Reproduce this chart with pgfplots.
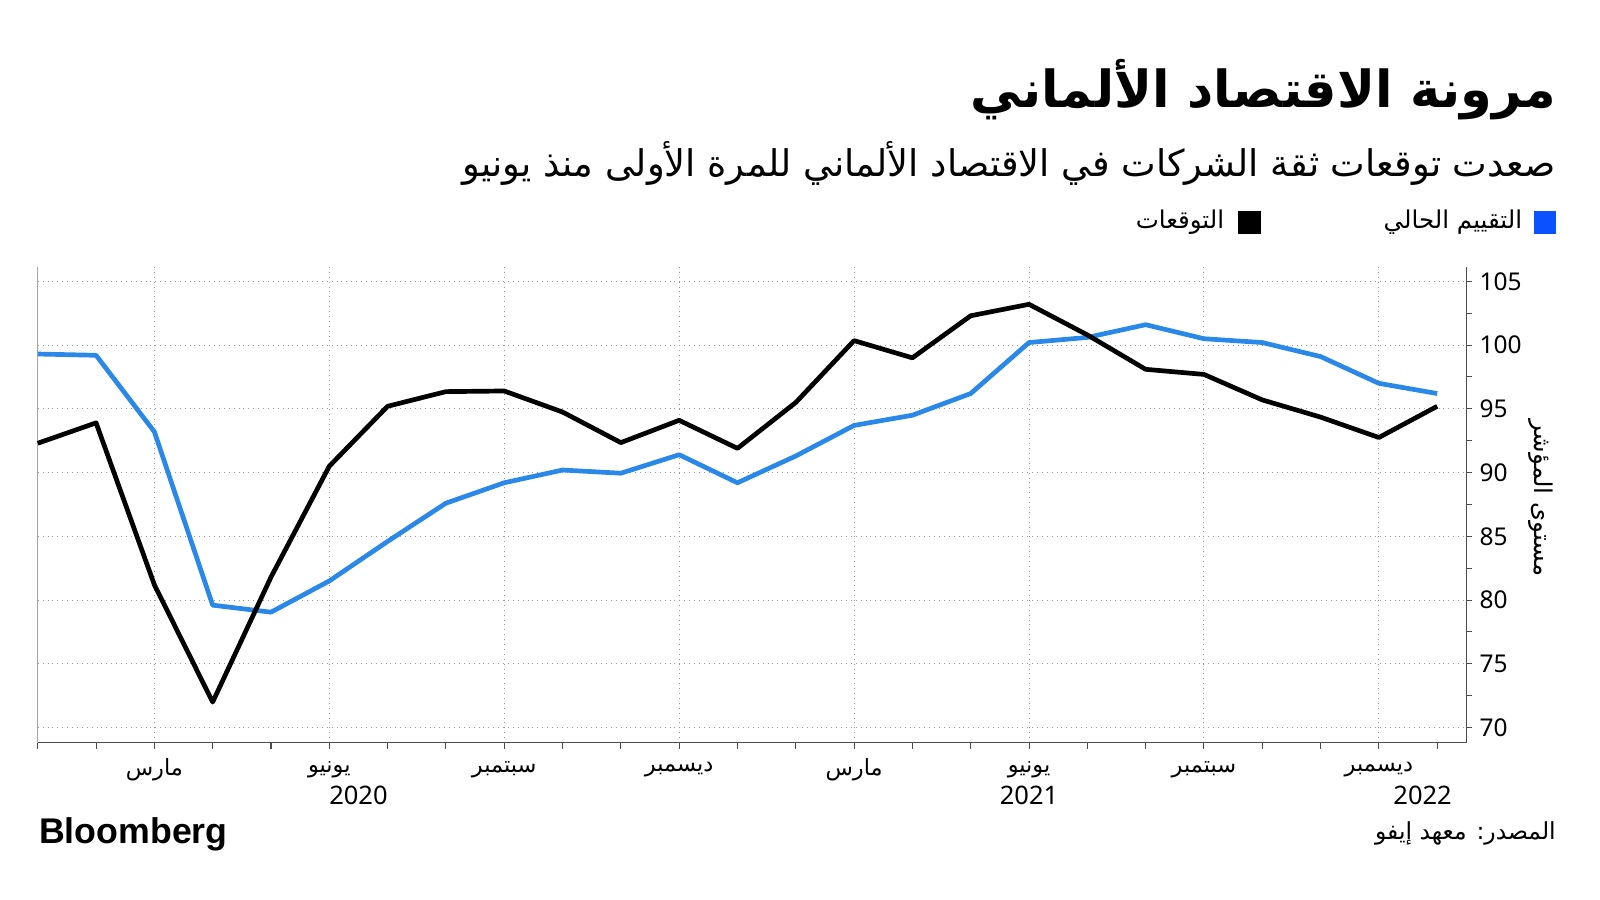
\documentclass[border=0pt]{standalone}
\usepackage{fontspec}
\usepackage{pgfplots}
\pgfplotsset{compat=1.18}
\setmainfont{Noto Sans}
\newfontfamily\ar[Script=Arabic]{DejaVu Sans}
\newfontfamily\bb{Liberation Sans}
\TeXXeTstate=1
\definecolor{curblue}{HTML}{2A88E8}
\definecolor{legblue}{HTML}{0A52FF}
\definecolor{gridgray}{HTML}{999999}

\begin{document}
\begin{tikzpicture}
\useasboundingbox (0,0) rectangle (784pt,441pt);
\begin{axis}[at={(18.5pt,77pt)}, anchor=south west,
  scale only axis, width=700pt, height=233pt,
  xmin=0, xmax=24.5, ymin=68.8, ymax=106.1,
  axis x line*=bottom, axis y line*=right,
  axis line style={black!70, line width=0.6pt},
  clip=false,
  xtick={2,5,8,11,14,17,20,23},
  xticklabels={\ar\beginR مارس\endR, \ar\beginR يونيو\endR, \ar\beginR سبتمبر\endR, \ar\beginR ديسمبر\endR,
               \ar\beginR مارس\endR, \ar\beginR يونيو\endR, \ar\beginR سبتمبر\endR, \ar\beginR ديسمبر\endR},
  minor xtick={0,1,...,24},
  ytick={70,75,...,105},
  minor ytick={72.5,77.5,...,102.5},
  tick align=outside,
  major tick length=3pt, minor tick length=3pt,
  tick style={black!70, line width=0.5pt},
  xmajorgrids, ymajorgrids,
  major grid style={gridgray, dotted, line width=0.5pt},
  xticklabel style={font=\fontsize{11}{13}\selectfont, anchor=center, yshift=-10pt},
  yticklabel style={font=\fontsize{12}{14}\selectfont},
  /pgf/number format/assume math mode=true,
  ]
\draw[black!35, line width=0.6pt] (axis cs:0,68.8) -- (axis cs:0,106.1);
\addplot[curblue, line width=2.3pt, line join=round] coordinates {
(0,99.3)(1,99.2)(2,93.2)(3,79.6)(4,79.05)(5,81.5)(6,84.6)(7,87.6)(8,89.2)(9,90.2)(10,89.95)(11,91.4)
(12,89.2)(13,91.3)(14,93.7)(15,94.5)(16,96.2)(17,100.2)(18,100.6)(19,101.6)(20,100.5)(21,100.2)(22,99.1)(23,97.0)(24,96.2)};
\addplot[black, line width=2.3pt, line join=round] coordinates {
(0,92.3)(1,93.9)(2,81.2)(3,72.0)(4,81.8)(5,90.5)(6,95.2)(7,96.35)(8,96.4)(9,94.75)(10,92.35)(11,94.1)
(12,91.9)(13,95.5)(14,100.35)(15,99.0)(16,102.3)(17,103.2)(18,100.8)(19,98.1)(20,97.7)(21,95.7)(22,94.35)(23,92.75)(24,95.2)};
\node[font=\fontsize{12.5}{14}\selectfont] at ([yshift=-25.5pt]axis cs:5.5,68.8) {2020};
\node[font=\fontsize{12.5}{14}\selectfont] at ([yshift=-25.5pt]axis cs:17,68.8) {2021};
\node[font=\fontsize{12.5}{14}\selectfont] at ([yshift=-25.5pt]axis cs:23.75,68.8) {2022};
\end{axis}
% title block
\node[anchor=east, inner sep=0pt, font=\ar\bfseries\fontsize{25}{30}\selectfont] at (762.5pt,397pt) {\beginR مرونة الاقتصاد الألماني\endR};
\node[anchor=east, inner sep=0pt, font=\ar\fontsize{18}{21}\selectfont] at (762.5pt,361pt) {\beginR صعدت توقعات ثقة الشركات في الاقتصاد الألماني للمرة الأولى منذ يونيو\endR};
% legend
\fill[legblue] (751.5pt,326.5pt) rectangle (762.5pt,337.5pt);
\node[anchor=east, inner sep=0pt, font=\ar\fontsize{12}{14}\selectfont] at (746pt,332pt) {\beginR التقييم الحالي\endR};
\fill[black] (606.5pt,326.5pt) rectangle (618pt,337.5pt);
\node[anchor=east, inner sep=0pt, font=\ar\fontsize{12}{14}\selectfont] at (600pt,332pt) {\beginR التوقعات\endR};
% y label
\node[rotate=-90, inner sep=0pt, font=\ar\fontsize{12}{14}\selectfont] at (755pt,197pt) {\beginR مستوى المؤشر\endR};
% footer
\node[anchor=west, inner sep=0pt, font=\bb\bfseries\fontsize{17.5}{20}\selectfont] at (19pt,32pt) {Bloomberg};
\node[anchor=east, inner sep=0pt, font=\ar\fontsize{11.5}{13}\selectfont] at (762.5pt,32.5pt) {\beginR المصدر: معهد إيفو\endR};
\end{tikzpicture}
\end{document}
